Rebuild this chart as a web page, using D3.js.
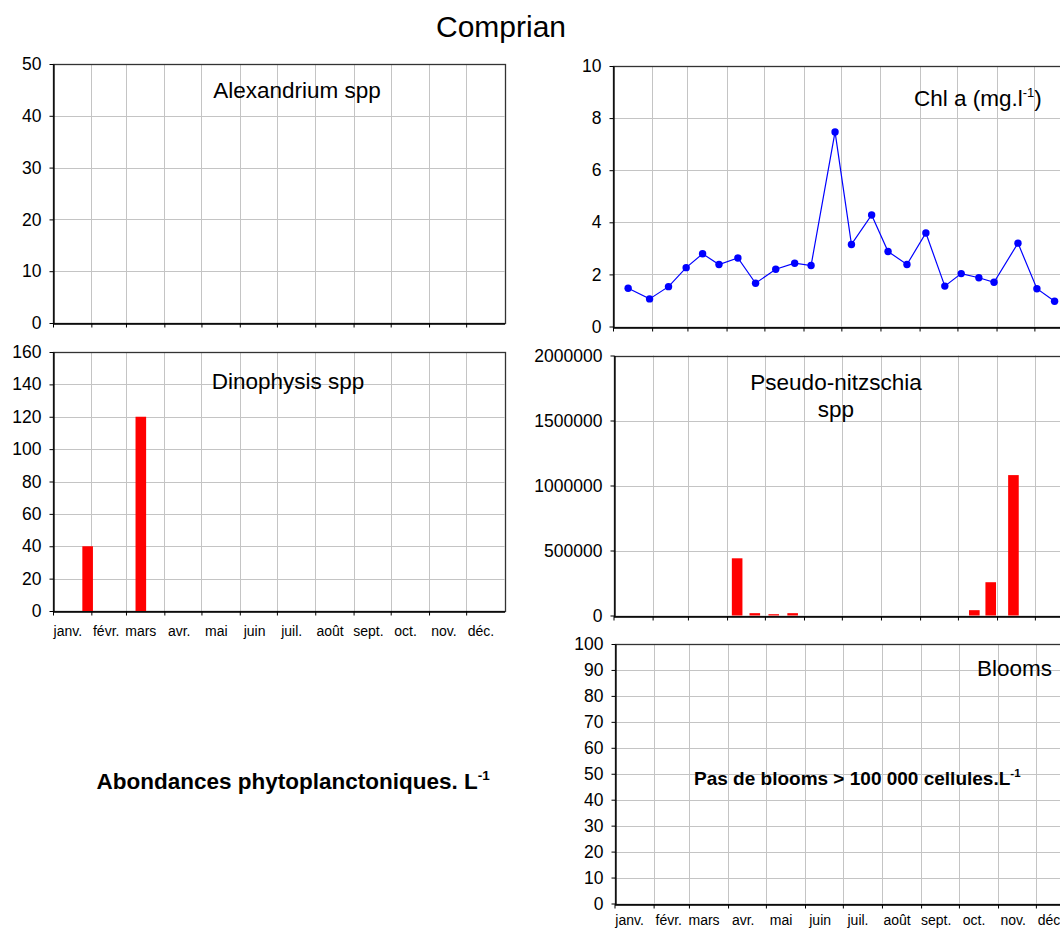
<!DOCTYPE html>
<html>
<head>
<meta charset="utf-8">
<script src="https://cdn.jsdelivr.net/npm/d3@7"></script>
<style>
  html, body { margin: 0; padding: 0; background: #fff; }
  svg { display: block; font-family: "Liberation Sans", Arial, sans-serif; }
</style>
</head>
<body>
<svg id="chart" width="1060" height="929"></svg>
<script>
// Month labels of the date axes
const monthLabels = ["janv.", "févr.", "mars", "avr.", "mai", "juin", "juil.", "août", "sept.", "oct.", "nov.", "déc."];

// Chlorophyll a (mg/l) at each sampling date
const chlDates = ["2009-01-13", "2009-01-30", "2009-02-14", "2009-02-28", "2009-03-13", "2009-03-26",
                  "2009-04-10", "2009-04-24", "2009-05-10", "2009-05-25", "2009-06-07", "2009-06-26",
                  "2009-07-09", "2009-07-25", "2009-08-07", "2009-08-22", "2009-09-06", "2009-09-21",
                  "2009-10-04", "2009-10-18", "2009-10-30", "2009-11-18", "2009-12-03", "2009-12-17"];
const chlValues = [1.47, 1.06, 1.53, 2.26, 2.79, 2.38, 2.63, 1.66, 2.20, 2.43, 2.34, 7.47,
                   3.15, 4.28, 2.88, 2.38, 3.59, 1.55, 2.03, 1.87, 1.70, 3.20, 1.45, 0.97];

// Alexandrium spp (cells/L): nothing counted
const alexDates = [];
const alexValues = [];

// Dinophysis spp (cells/L)
const dinoDates = ["2009-01-29", "2009-03-13"];
const dinoValues = [40, 120];

// Pseudo-nitzschia spp (cells/L)
const pseudoDates = ["2009-04-09", "2009-04-23", "2009-05-08", "2009-05-23", "2009-10-14", "2009-10-27", "2009-11-14"];
const pseudoValues = [440000, 18000, 10000, 18000, 41000, 256000, 1080000];

// Y axis ticks of each panel
const alexTicks = [0, 10, 20, 30, 40, 50];
const dinoTicks = [0, 20, 40, 60, 80, 100, 120, 140, 160];
const chlTicks = [0, 2, 4, 6, 8, 10];
const pseudoTicks = [0, 500000, 1000000, 1500000, 2000000];
const bloomTicks = [0, 10, 20, 30, 40, 50, 60, 70, 80, 90, 100];

const parse = d3.timeParse("%Y-%m-%d");
const yearStart = new Date(2009, 0, 1);
const yearEnd = new Date(2010, 0, 1);
const monthStarts = d3.timeMonth.range(yearStart, yearEnd);

const svg = d3.select("#chart");
const FONT = "\"Liberation Sans\", Arial, sans-serif";

// Draws one panel: frame, grid, axes; returns its scales and group
function panel(opts) {
  const { left, right, top, bottom, ticks, showMonths, monthDy } = opts;
  const x = d3.scaleTime().domain([yearStart, yearEnd]).range([left, right]);
  const y = d3.scaleLinear().domain([ticks[0], ticks[ticks.length - 1]]).range([bottom, top]);
  const g = svg.append("g");

  // grid
  g.append("g").selectAll("line.h").data(ticks).join("line")
    .attr("x1", left).attr("x2", right)
    .attr("y1", d => Math.round(y(d)) + 0.5).attr("y2", d => Math.round(y(d)) + 0.5)
    .attr("stroke", "#c4c4c4").attr("stroke-width", 1);
  g.append("g").selectAll("line.v").data(monthStarts).join("line")
    .attr("x1", d => Math.round(x(d)) + 0.5).attr("x2", d => Math.round(x(d)) + 0.5)
    .attr("y1", top).attr("y2", bottom)
    .attr("stroke", "#c4c4c4").attr("stroke-width", 1);

  // frame
  g.append("rect")
    .attr("x", Math.round(left) + 0.5).attr("y", Math.round(top) + 0.5)
    .attr("width", Math.round(right) - Math.round(left)).attr("height", Math.round(bottom) - Math.round(top))
    .attr("fill", "none").attr("stroke", "#333").attr("stroke-width", 1.3);

  // y axis
  const ya = d3.axisLeft(y).tickValues(ticks).tickSize(4).tickSizeOuter(0).tickFormat(d3.format("d")).tickPadding(8);
  const yg = g.append("g").attr("transform", `translate(${Math.round(left) + 0.5},0)`).call(ya);
  yg.select(".domain").attr("stroke", "#000").attr("stroke-width", 1.3);
  yg.selectAll(".tick line").attr("stroke", "#000");
  yg.selectAll(".tick text").attr("font-family", FONT).attr("font-size", 17.5).attr("fill", "#000");

  // x axis (ticks at each month start)
  const xa = d3.axisBottom(x).tickValues(monthStarts).tickSize(4).tickSizeOuter(0).tickFormat("");
  const xg = g.append("g").attr("transform", `translate(0,${Math.round(bottom) + 0.5})`).call(xa);
  xg.select(".domain").attr("stroke", "#000").attr("stroke-width", 1.6);
  xg.selectAll(".tick line").attr("stroke", "#000");

  if (showMonths) {
    g.append("g").selectAll("text").data(monthStarts).join("text")
      .attr("x", d => x(d3.timeDay.offset(d, 12)))
      .attr("y", bottom + (monthDy || 25))
      .attr("text-anchor", "middle")
      .attr("font-family", FONT).attr("font-size", 14).attr("fill", "#000")
      .text((d, i) => monthLabels[i]);
  }
  return { x, y, g };
}

function bars(p, dates, values) {
  const w = 10.6;
  p.g.append("g").selectAll("rect").data(values).join("rect")
    .attr("x", (d, i) => p.x(parse(dates[i])) - w / 2)
    .attr("width", w)
    .attr("y", d => p.y(d))
    .attr("height", d => p.y(0) - p.y(d))
    .attr("fill", "#ff0000");
}

function label(x, y, txt, size, anchor, weight) {
  return svg.append("text").attr("x", x).attr("y", y)
    .attr("text-anchor", anchor || "start")
    .attr("font-family", FONT).attr("font-size", size)
    .attr("font-weight", weight || "normal").attr("fill", "#000")
    .text(txt);
}

// Left column
const pAlex = panel({ left: 53, right: 504.5, top: 64, bottom: 323, ticks: alexTicks, showMonths: false });
bars(pAlex, alexDates, alexValues);
label(297, 98, "Alexandrium spp", 22.5, "middle");

const pDino = panel({ left: 53, right: 504.5, top: 352, bottom: 611, ticks: dinoTicks, showMonths: true });
bars(pDino, dinoDates, dinoValues);
label(288, 389, "Dinophysis spp", 22.5, "middle");

// Right column
const pChl = panel({ left: 613, right: 1073.5, top: 66, bottom: 326.5, ticks: chlTicks, showMonths: false });
const line = d3.line()
  .x((d, i) => pChl.x(parse(chlDates[i])))
  .y(d => pChl.y(d));
pChl.g.append("path").datum(chlValues)
  .attr("d", line).attr("fill", "none").attr("stroke", "#0000ff").attr("stroke-width", 1.2);
pChl.g.append("g").selectAll("circle").data(chlValues).join("circle")
  .attr("cx", (d, i) => pChl.x(parse(chlDates[i])))
  .attr("cy", d => pChl.y(d))
  .attr("r", 3.7).attr("fill", "#0000ff");
const chlLab = label(914, 106, "Chl a (mg.l", 22.5, "start");
chlLab.append("tspan").attr("font-size", 13).attr("dy", -9).text("-1");
chlLab.append("tspan").attr("dy", 9).text(")");

const pPseudo = panel({ left: 613.5, right: 1074, top: 355.5, bottom: 615.5, ticks: pseudoTicks, showMonths: false });
bars(pPseudo, pseudoDates, pseudoValues);
label(836, 390, "Pseudo-nitzschia", 22.5, "middle");
label(836, 417, "spp", 22.5, "middle");

const pBloom = panel({ left: 614.5, right: 1075, top: 644, bottom: 903.5, ticks: bloomTicks, showMonths: true, monthDy: 21.5 });
label(1052, 676, "Blooms", 22.5, "end");
const bl = label(694, 785, "Pas de blooms > 100 000 cellules.L", 19, "start", "bold");
bl.append("tspan").attr("font-size", 11.5).attr("dy", -8).text("-1");

// Titles
label(501, 37, "Comprian", 30, "middle");
const ab = label(96.5, 789, "Abondances phytoplanctoniques. L", 22.5, "start", "bold");
ab.append("tspan").attr("font-size", 13.5).attr("dy", -9).text("-1");
</script>
</body>
</html>
